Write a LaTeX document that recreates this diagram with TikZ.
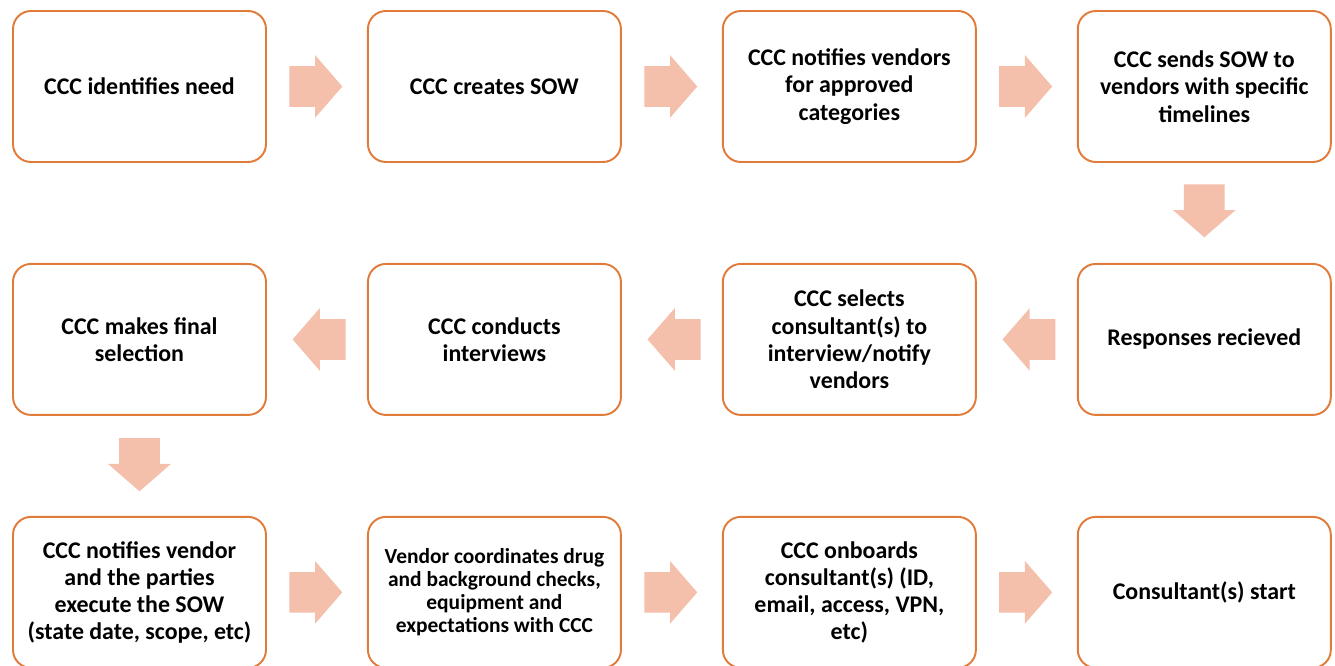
\documentclass[tikz,border=0pt]{standalone}
\usepackage{fontspec}
\setmainfont{Carlito}
\usetikzlibrary{positioning,calc,shapes.arrows}
\definecolor{boxline}{HTML}{E07B39}
\definecolor{flowfill}{HTML}{F4BFAB}

\begin{document}
\begin{tikzpicture}[
box/.style={
	draw=boxline, line width=1.1pt, rounded corners=0.36cm,
	minimum width=5.06cm, minimum height=3.02cm,
	align=center, text=black,
	font=\fontsize{13.6}{15.5}\selectfont\bfseries
},
small/.style={font=\fontsize{12.2}{13.1}\selectfont\bfseries},
flow/.style={
	single arrow, fill=flowfill, draw=none,
	inner xsep=0pt, inner ysep=0.4cm,
	minimum height=1.06cm, anchor=tail,
	single arrow head extend=0.22cm, single arrow tip angle=98
},
node distance=2cm
]
\useasboundingbox (0,0) rectangle (26.7,-13.32);
% first row, left to right
\node[box] (n1) at (2.79,-1.73) {CCC identifies need};
\node[box,right=of n1] (n2) {CCC creates SOW};
\node[box,right=of n2] (n3) {CCC notifies vendors\\for approved\\categories};
\node[box,right=of n3] (n4) {CCC sends SOW to\\vendors with specific\\timelines};
% second row, right to left
\node[box,below=of n4] (n5) {Responses recieved};
\node[box,left=of n5] (n6) {CCC selects\\consultant(s) to\\interview/notify\\vendors};
\node[box,left=of n6] (n7) {CCC conducts\\interviews};
\node[box,left=of n7] (n8) {CCC makes final\\selection};
% third row
\node[box,below=of n8] (n9) {CCC notifies vendor\\and the parties\\execute the SOW\\(state date, scope, etc)};
\node[box,small,right=of n9] (n10) {Vendor coordinates drug\\and background checks,\\equipment and\\expectations with CCC};
\node[box,right=of n10] (n11) {CCC onboards\\consultant(s) (ID,\\email, access, VPN,\\etc)};
\node[box,right=of n11] (n12) {Consultant(s) start};

% block arrows, tail set a little off the box they leave
\node[flow] (a1) at ([xshift=0.44cm]n1.east) {};
\node[flow] (a2) at ([xshift=0.44cm]n2.east) {};
\node[flow] (a3) at ([xshift=0.44cm]n3.east) {};
\node[flow,rotate=-90] (a4) at ([yshift=-0.42cm]n4.south) {};
\node[flow,rotate=180] (a5) at ([xshift=-0.42cm]n5.west) {};
\node[flow,rotate=180] (a6) at ([xshift=-0.42cm]n6.west) {};
\node[flow,rotate=180] (a7) at ([xshift=-0.42cm]n7.west) {};
\node[flow,rotate=-90] (a8) at ([yshift=-0.44cm]n8.south) {};
\node[flow] (a9) at ([xshift=0.44cm]n9.east) {};
\node[flow] (a10) at ([xshift=0.44cm]n10.east) {};
\node[flow] (a11) at ([xshift=0.44cm]n11.east) {};
\end{tikzpicture}
\end{document}
